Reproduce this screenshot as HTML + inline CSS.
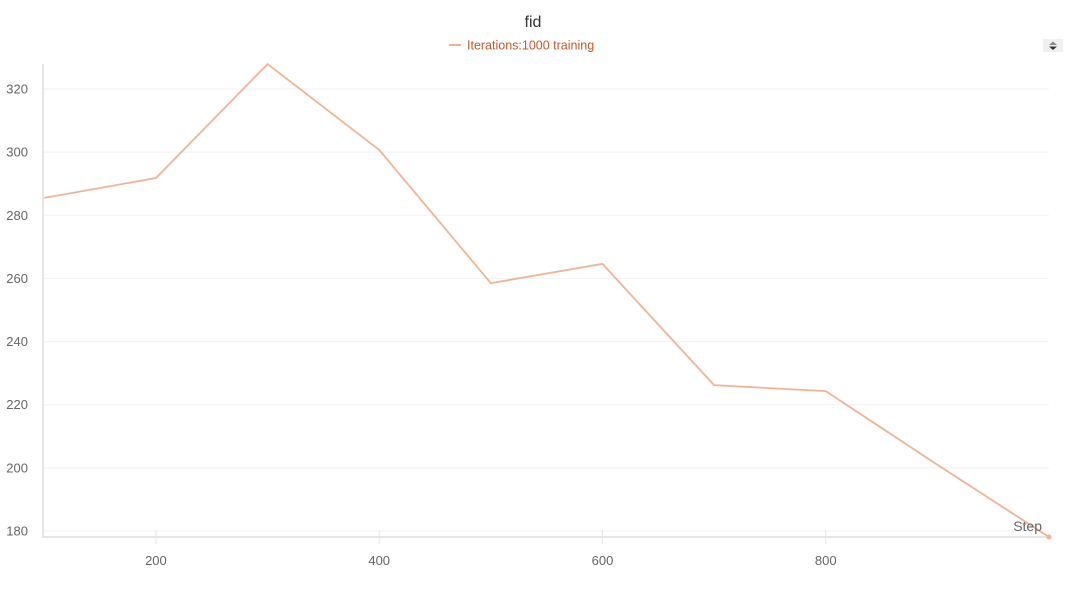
<!DOCTYPE html>
<html><head><meta charset="utf-8"><style>
body{margin:0;background:#fff;font-family:"Liberation Sans",sans-serif;}
svg{display:block}
</style></head><body>
<svg id="chart" width="1082" height="593">
<text x="533" y="27" text-anchor="middle" font-size="16" fill="#333">fid</text>
<g>
<line x1="449" y1="45" x2="461" y2="45" stroke="#f0b496" stroke-width="2"/>
<text x="467" y="49.5" font-size="12.5" fill="#c9582a">Iterations:1000 training</text>
</g>
<g>
<rect x="1043" y="39" width="20" height="13" fill="#f0f0f0"/>
<path d="M1049 45 L1053 41.5 L1057 45 Z" fill="#888"/>
<path d="M1049 46.5 L1053 50 L1057 46.5 Z" fill="#333"/>
</g>
<g id="grid"></g><g id="axes"></g><g id="series"></g>
<text x="1042" y="531" text-anchor="end" font-size="14" fill="#666">Step</text>
</svg>
<script>
const steps=[100,200,300,400,500,600,700,800,900,1000];
const fid=[285.5,291.8,327.9,300.7,258.5,264.6,226.2,224.3,201,178.1];
const xTicks=[200,400,600,800];
const yTicks=[180,200,220,240,260,280,300,320];
const NS="http://www.w3.org/2000/svg";
const X=v=>44.3+(v-100)*(1049-44.3)/900;
const Y=v=>531-(v-180)*(442/140);
function mk(t,a,p){const e=document.createElementNS(NS,t);for(const k in a)e.setAttribute(k,a[k]);p.appendChild(e);return e;}
const g=document.getElementById('grid'),ax=document.getElementById('axes'),s=document.getElementById('series');
yTicks.forEach(v=>{
const l=mk('line',{x1:43,x2:1049,y1:Y(v),y2:Y(v),stroke:'#f2f2f2','stroke-width':1},g);


const t=mk('text',{x:28,y:Y(v)+4.5,'text-anchor':'end','font-size':13,fill:'#666'},ax);
t.textContent=v;


});
xTicks.forEach(v=>{
mk('line',{x1:X(v),x2:X(v),y1:530,y2:544,stroke:'#e6e6e6','stroke-width':1},ax);
const t=mk('text',{x:X(v),y:565,'text-anchor':'middle','font-size':13,fill:'#666'},ax);
t.textContent=v;


});
const yl=mk('line',{x1:43,x2:43,y1:64,y2:538,stroke:'#e6e6e6','stroke-width':2},ax);


const xl=mk('line',{x1:42,x2:1050,y1:537,y2:537,stroke:'#e6e6e6','stroke-width':2},ax);


const p=mk('polyline',{points:steps.map((v,i)=>X(v)+','+Y(fid[i])).join(' '),fill:'none',stroke:'#f0b496','stroke-width':1.8},s);


const last=steps.length-1;
const c=mk('circle',{cx:X(steps[last]),cy:Y(fid[last]),r:2.5,fill:'#f0b496'},s);


</script>
</body></html>
